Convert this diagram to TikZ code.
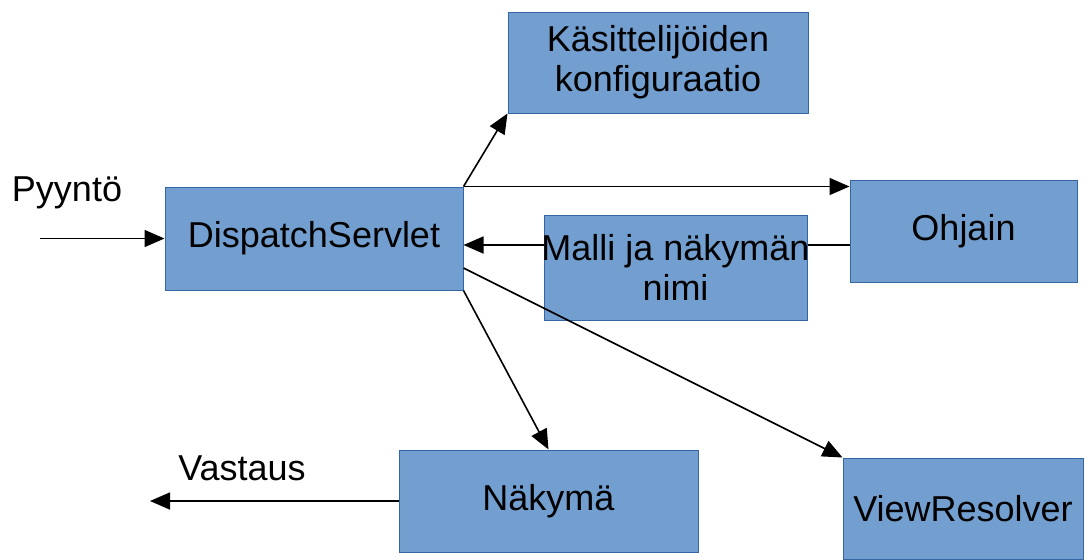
\documentclass[tikz,border=0pt]{standalone}
\usepackage{fontspec}
\setmainfont{Liberation Sans}
\usetikzlibrary{arrows.meta,calc}
\pgfdeclarelayer{bg}
\pgfsetlayers{bg,main}
\definecolor{boxfill}{HTML}{729FCF}
\definecolor{boxline}{HTML}{3465A4}
\tikzset{
  blk/.style={draw=boxline, line width=0.5pt, fill=boxfill, inner sep=0pt,
    align=center, font=\fontsize{18}{20}\selectfont, text=black},
  lbl/.style={font=\fontsize{18}{20}\selectfont, inner sep=0pt, align=center},
  arr/.style={line width=0.8pt, -{Triangle[length=10pt,width=8.5pt]}}
}
\begin{document}
\begin{tikzpicture}[x=0.5pt,y=-0.5pt]
  \useasboundingbox (0,0) rectangle (1087,559);
  % blocks
  \node[blk, minimum width=150pt, minimum height=50.5pt] (K) at (658,62.5) {Käsittelijöiden\\konfiguraatio};
  \node[blk, minimum width=149pt, minimum height=51.5pt] (D) at (314,238.5) {DispatchServlet};
  \node[blk, minimum width=113.5pt, minimum height=51pt] (O) at (963.5,231) {Ohjain};
  % model box: its caption is a little wider than the box itself
  \node[blk, minimum width=131.5pt, minimum height=52.5pt] (M) at (675.5,267.5) {};
  \node[lbl] (Mt) at (M.center) {Malli ja näkymän\\nimi};
  \node[blk, minimum width=149.5pt, minimum height=51pt] (N) at (548.5,501) {Näkymä};
  \node[blk, minimum width=120pt, minimum height=50.5pt] (V) at (963,508.5) {ViewResolver};
  % free labels
  \node[lbl] (pyynto) at (67,193) {Pyyntö};
  \node[lbl] (vastaus) at (242,468) {Vastaus};
  \coordinate (in) at (40,238.5);
  \coordinate (out) at (150,501);
  % the return arrow runs behind the model box
  \begin{pgfonlayer}{bg}
    \draw[arr] ([yshift=-7pt]O.west) -- ([yshift=-7pt]O.west -| D.east);
  \end{pgfonlayer}
  % connectors
  \draw[arr] (in) -- (D.west);
  \draw[arr] (D.north east) -- (K.south west);
  \draw[arr] (D.north east) -- (D.north east -| O.west);
  \draw[arr] (D.south east) -- (N.north);
  \draw[arr] ([yshift=-14.75pt]D.east) -- (V.north west);
  \draw[arr] (N.west) -- (out);
\end{tikzpicture}
\end{document}
